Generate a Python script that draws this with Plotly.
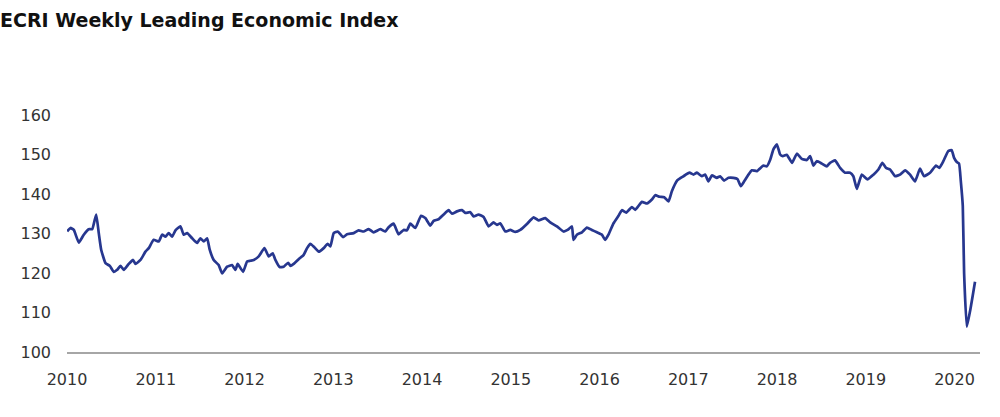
import plotly.graph_objects as go

# Decimal year positions and index values
years = [
    2010.002, 2010.039, 2010.077, 2010.133, 2010.189, 2010.245, 2010.284, 2010.329, 2010.358, 2010.385,
    2010.434, 2010.482, 2010.527, 2010.565, 2010.602, 2010.640, 2010.696, 2010.745, 2010.771, 2010.828,
    2010.884, 2010.921, 2010.977, 2011.034, 2011.072, 2011.109, 2011.146, 2011.185, 2011.222, 2011.278,
    2011.315, 2011.354, 2011.410, 2011.466, 2011.503, 2011.541, 2011.579, 2011.608, 2011.653, 2011.709,
    2011.748, 2011.804, 2011.860, 2011.898, 2011.923, 2011.984, 2012.029, 2012.066, 2012.104, 2012.160,
    2012.224, 2012.273, 2012.318, 2012.348, 2012.396, 2012.441, 2012.491, 2012.517, 2012.554, 2012.610,
    2012.667, 2012.705, 2012.742, 2012.787, 2012.836, 2012.892, 2012.937, 2012.967, 2013.005, 2013.050,
    2013.110, 2013.155, 2013.230, 2013.286, 2013.342, 2013.399, 2013.455, 2013.530, 2013.587, 2013.624,
    2013.680, 2013.736, 2013.793, 2013.831, 2013.868, 2013.925, 2013.989, 2014.037, 2014.093, 2014.131,
    2014.187, 2014.243, 2014.300, 2014.338, 2014.394, 2014.450, 2014.488, 2014.544, 2014.581, 2014.637,
    2014.694, 2014.750, 2014.806, 2014.845, 2014.882, 2014.938, 2014.994, 2015.051, 2015.107, 2015.182,
    2015.257, 2015.313, 2015.389, 2015.445, 2015.520, 2015.595, 2015.640, 2015.689, 2015.707, 2015.745,
    2015.802, 2015.858, 2015.914, 2015.971, 2016.027, 2016.064, 2016.101, 2016.158, 2016.214, 2016.252,
    2016.301, 2016.365, 2016.402, 2016.477, 2016.534, 2016.590, 2016.627, 2016.676, 2016.729, 2016.777,
    2016.815, 2016.878, 2016.946, 2017.014, 2017.059, 2017.097, 2017.153, 2017.190, 2017.227, 2017.266,
    2017.322, 2017.359, 2017.404, 2017.453, 2017.509, 2017.554, 2017.592, 2017.630, 2017.678, 2017.716,
    2017.773, 2017.847, 2017.885, 2017.922, 2017.959, 2017.998, 2018.035, 2018.065, 2018.110, 2018.170,
    2018.223, 2018.279, 2018.336, 2018.373, 2018.410, 2018.448, 2018.505, 2018.561, 2018.598, 2018.654,
    2018.711, 2018.767, 2018.823, 2018.860, 2018.899, 2018.955, 2019.018, 2019.086, 2019.142, 2019.187,
    2019.229, 2019.274, 2019.330, 2019.386, 2019.443, 2019.499, 2019.555, 2019.611, 2019.657, 2019.724,
    2019.792, 2019.829, 2019.874, 2019.930, 2019.968, 2019.994, 2020.025, 2020.051, 2020.071, 2020.093,
    2020.108, 2020.138, 2020.177, 2020.231,
]
wli = [
    130.5, 131.4, 130.9, 127.7, 129.7, 131.1, 131.1, 134.8, 130.1, 125.9,
    122.5, 121.8, 120.3, 120.8, 121.8, 120.8, 122.3, 123.3, 122.3, 123.3,
    125.4, 126.3, 128.4, 128.0, 129.7, 129.2, 130.1, 129.2, 130.8, 131.8,
    129.7, 130.1, 128.8, 127.6, 128.8, 128.0, 128.8, 125.9, 123.3, 122.0,
    119.9, 121.6, 122.0, 120.8, 122.3, 120.3, 122.9, 123.1, 123.3, 124.2,
    126.3, 124.2, 125.0, 123.3, 121.5, 121.6, 122.6, 121.8, 122.3, 123.5,
    124.6, 126.3, 127.4, 126.5, 125.4, 126.3, 127.4, 126.7, 130.1, 130.5,
    129.1, 129.8, 130.1, 130.8, 130.5, 131.1, 130.3, 131.1, 130.5, 131.6,
    132.5, 129.8, 130.9, 130.8, 132.5, 131.4, 134.5, 133.9, 132.0, 133.2,
    133.6, 134.8, 135.9, 135.0, 135.6, 135.9, 135.2, 135.4, 134.3, 134.8,
    134.2, 131.8, 132.8, 132.2, 132.6, 130.5, 130.9, 130.4, 130.9, 132.4,
    134.1, 133.3, 133.9, 132.8, 131.8, 130.5, 130.9, 131.8, 128.4, 129.7,
    130.3, 131.5, 130.9, 130.3, 129.7, 128.4, 129.7, 132.6, 134.5, 135.9,
    135.3, 136.7, 136.0, 138.0, 137.6, 138.6, 139.7, 139.3, 139.2, 138.1,
    140.7, 143.5, 144.5, 145.4, 144.9, 145.4, 144.5, 144.9, 143.2, 144.7,
    144.1, 144.5, 143.4, 144.1, 144.1, 143.8, 142.0, 143.2, 144.9, 146.0,
    145.8, 147.2, 147.0, 148.6, 151.3, 152.6, 150.0, 149.6, 149.9, 147.9,
    150.2, 148.9, 148.6, 149.6, 147.2, 148.3, 147.7, 147.0, 147.9, 148.5,
    146.6, 145.4, 145.4, 144.5, 141.3, 144.9, 143.7, 144.9, 146.2, 147.9,
    146.6, 146.2, 144.5, 144.9, 146.0, 144.9, 143.2, 146.4, 144.5, 145.4,
    147.2, 146.6, 148.3, 150.9, 151.1, 149.2, 148.1, 147.7, 143.2, 137.0,
    120.0, 106.4, 110.6, 117.8,
]

year_ticks = list(range(2010, 2021))
value_ticks = [100, 110, 120, 130, 140, 150, 160]

tick_font = dict(family="DejaVu Sans, Verdana, sans-serif", size=16, color="#333333")

fig = go.Figure()
fig.add_trace(go.Scatter(
    x=years, y=wli, mode="lines",
    line=dict(color="#27378f", width=2.7, shape="spline", smoothing=0.4),
    hoverinfo="x+y", showlegend=False,
))

fig.update_layout(
    width=1000, height=417,
    paper_bgcolor="white", plot_bgcolor="white",
    margin=dict(l=66.5, r=20, t=115, b=65.3, autoexpand=False),
    title=dict(
        text="<b>ECRI Weekly Leading Economic Index</b>",
        x=0, xref="container", xanchor="left",
        y=1 - 20 / 417, yref="container", yanchor="middle",
        font=dict(family="DejaVu Sans, sans-serif", size=19, color="#111111"),
        pad=dict(l=0),
    ),
    font=tick_font,
)

fig.update_xaxes(
    range=[2010, 2020.287],
    tickvals=year_ticks, ticktext=[str(y) for y in year_ticks],
    showgrid=False, zeroline=False,
    showline=True, linecolor="#a6a6a6", linewidth=2,
    ticks="", ticklabelstandoff=12,
    tickfont=tick_font,
)
fig.update_yaxes(
    range=[100, 160],
    tickvals=value_ticks,
    showgrid=False, zeroline=False, showline=False,
    ticks="", ticklabelstandoff=15,
    tickfont=tick_font,
)

fig.write_html(
    "out.html",
    config={"displayModeBar": False},
    post_script="document.body.style.margin='0';",
)
